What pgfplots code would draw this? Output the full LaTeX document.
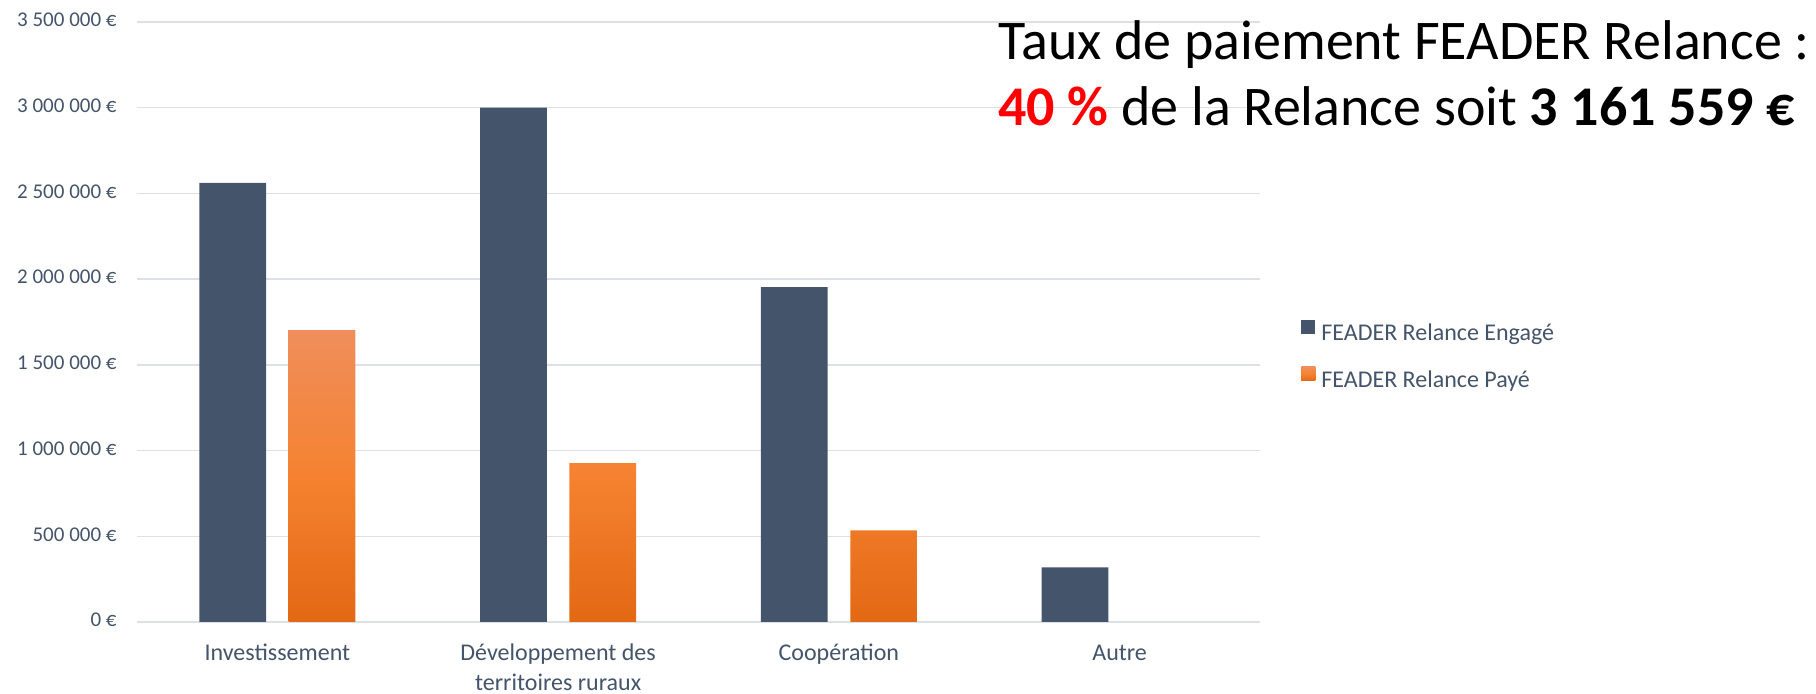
\documentclass[border=0pt]{standalone}
\usepackage{fontspec}
\setmainfont{Carlito}
\usepackage{pgfplots}
\pgfplotsset{compat=1.18}
\definecolor{engage}{HTML}{44546A}
\definecolor{payetop}{HTML}{F08E5C}
\definecolor{payemid}{HTML}{F58230}
\definecolor{payebot}{HTML}{E36814}
\definecolor{payeleg}{HTML}{F07A28}
\definecolor{gridc}{HTML}{DDE1E7}
\definecolor{txt}{HTML}{44546A}
\begin{document}
\begin{tikzpicture}
\useasboundingbox (0,0) rectangle (908pt,347pt);
\begin{axis}[
    at={(68.5pt,36pt)}, anchor=south west,
    scale only axis, width=561.5pt, height=300pt,
    xmin=-0.5, xmax=3.5, ymin=0, ymax=3500000,
    axis line style={draw=none},
    major tick length=0pt,
    ymajorgrids,
    grid style={gridc, line width=0.75pt},
    scaled y ticks=false,
    ytick={0,500000,1000000,1500000,2000000,2500000,3000000,3500000},
    yticklabels={0 €,500 000 €,1 000 000 €,1 500 000 €,2 000 000 €,2 500 000 €,3 000 000 €,3 500 000 €},
    yticklabel style={anchor=east, inner sep=0pt, xshift=-10pt, font=\fontsize{10.5}{12}\selectfont, text=txt},
    xtick={0,1,2,3},
    xticklabels={Investissement,{Développement des\\territoires ruraux},Coopération,Autre},
    typeset ticklabels with strut,
    xticklabel style={anchor=north, align=center, inner sep=0pt, yshift=-8.5pt, font=\fontsize{12}{15}\selectfont, text=txt},
    legend style={at={(1.0365,0.442)}, anchor=west, draw=none, fill=none, inner sep=0pt,
        font=\fontsize{12}{14}\selectfont, text=txt, row sep=10.15pt,
        nodes={inner sep=0pt, text height=8.5pt, text depth=3pt},
        /tikz/every even column/.append style={column sep=0pt}},
    legend cell align=left,
    legend image code/.code={\fill[#1] (0pt,0.4pt) rectangle (7pt,7.4pt); \path (10pt,0pt);},
]
\addplot[ybar, bar width=0.237, bar shift=-0.159, fill=engage, draw=none]
    coordinates {(0,2561000) (1,3000000) (2,1953000) (3,318000)};
\addlegendentry{FEADER Relance Engagé}
\addplot[ybar, bar width=0.237, bar shift=0.159, draw=none,
    top color=payetop, bottom color=payebot, middle color=payemid,
    legend image code/.code={\fill[payeleg] (0pt,0.4pt) rectangle (7pt,7.4pt); \path (10pt,0pt);}]
    coordinates {(0,1703000) (1,926000) (2,534000)};
\addlegendentry{FEADER Relance Payé}
\end{axis}
\node[anchor=base west, inner sep=0pt, font=\fontsize{28}{34}\selectfont] at (499pt,317pt)
    {Taux de paiement FEADER Relance :};
\node[anchor=base west, inner sep=0pt, font=\fontsize{28}{34}\selectfont] at (499pt,284pt)
    {\textcolor{red}{\textbf{40 \%}} de la Relance soit \textbf{3 161 559 €}};
\end{tikzpicture}
\end{document}
